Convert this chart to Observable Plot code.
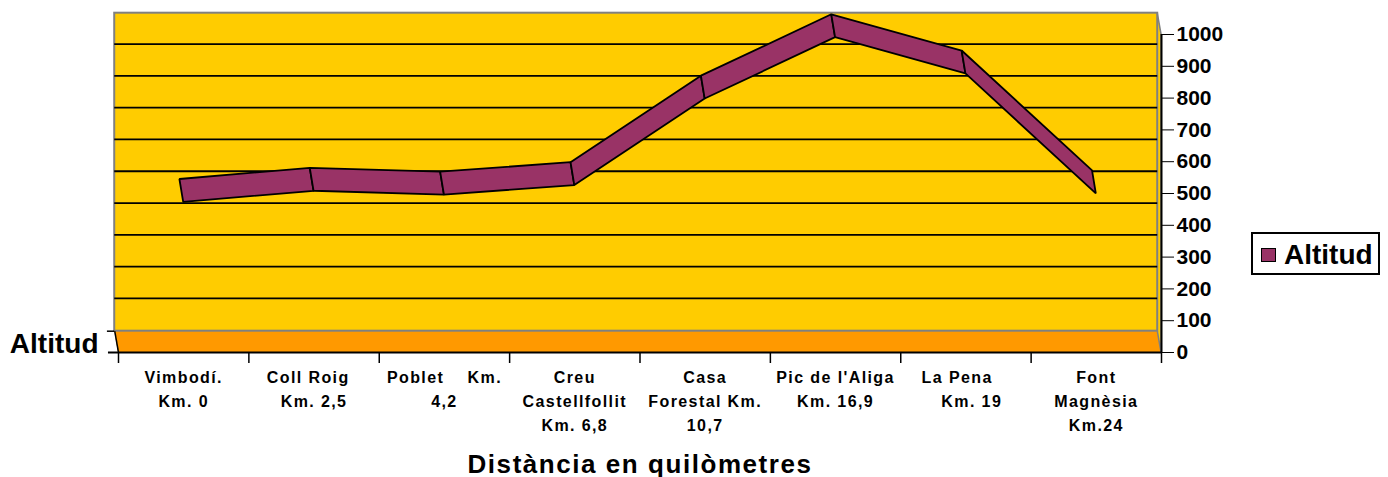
<!DOCTYPE html>
<html>
<head>
<meta charset="utf-8">
<script src="https://cdn.jsdelivr.net/npm/d3@7"></script>
<script src="https://cdn.jsdelivr.net/npm/@observablehq/plot@0.6"></script>
<style>
html,body{margin:0;padding:0;background:#fff}
#wrap{position:relative;width:1388px;height:477px;overflow:hidden;font-family:"Liberation Sans",Arial,sans-serif;font-weight:bold;color:#000}
#legend{position:absolute;left:1251px;top:232px;width:125px;height:39px;border:2px solid #000;background:#fff}
#legend i{position:absolute;left:8px;top:14px;width:13px;height:12px;background:#993366;border:1.5px solid #000}
#legend span{position:absolute;left:31px;top:5px;font-size:28px;line-height:32px}
svg g[aria-label="x-axis tick label"] text{letter-spacing:1.4px}
svg g[aria-label="x-axis label"] text{letter-spacing:1.55px}
</style>
</head>
<body>
<div id="wrap"><div id="legend"><i></i><span>Altitud</span></div></div>
<script>
const categories = ["Vimbodí.\nKm. 0","Coll Roig\u00a0\u00a0\nKm. 2,5","Poblet\u00a0\u00a0\u00a0\u00a0Km.\n4,2","Creu\nCastellfollit\nKm. 6,8","Casa\nForestal Km.\n10,7","Pic de l'Aliga\nKm. 16,9","La Pena\u00a0\u00a0\u00a0\n\u00a0\u00a0Km. 19","Font\nMagnèsia\nKm.24"];
const altitudes = [472,507,495,525,797,990,876,499];
const yTicks = [0,100,200,300,400,500,600,700,800,900,1000];
const seriesName = "Altitud";
const axisTitle = "Distància en quilòmetres";

const depthX = -0.029, wallDepthY = 67, ribbonDepthY = 72, gridShift = 3;
const xEdges = d3.range(9).map(i => i - 0.5);
const left = -0.5, right = 7.5, top1000 = 1000;

const segments = d3.range(altitudes.length - 1).flatMap(s => [s, s + 1].map(i => ({s, i, v: altitudes[i]})));
const font = '"Liberation Sans",Arial,sans-serif';
const grey = "#808080";

const chart = Plot.plot({
  width: 1388, height: 477,
  marginLeft: 118, marginRight: 227, marginTop: 34, marginBottom: 125,
  style: {fontFamily: font, fontWeight: "bold", color: "#000", background: "#fff", overflow: "visible"},
  x: {type: "linear", domain: [left, right]},
  y: {type: "linear", domain: [0, top1000]},
  marks: [
    Plot.area([left, right], {x1: d => d, y1: 0, x2: d => d + depthX, y2: wallDepthY, fill: "#FF9900"}),
    Plot.area([0, top1000], {x1: right + depthX, y1: d => d + wallDepthY, x2: right, y2: d => d, fill: "#FFCC00", stroke: grey, strokeWidth: 1.5}),
    Plot.rect([0], {x1: left + depthX, x2: right + depthX, y1: wallDepthY, y2: top1000 + wallDepthY, fill: "#FFCC00", stroke: grey, strokeWidth: 2}),
    Plot.ruleY(yTicks.slice(1, -1), {y: d => d + wallDepthY + gridShift, x1: left + depthX, x2: right + depthX, stroke: "#000", strokeWidth: 1.8}),
    Plot.link([0], {x1: left, y1: 0, x2: left + depthX, y2: wallDepthY, stroke: "#000", strokeWidth: 1.5}),
    Plot.ruleY([0], {x1: left - 0.077, x2: right, stroke: "#000", strokeWidth: 2}),
    Plot.ruleY([wallDepthY], {x1: left - 0.085, x2: left + depthX, stroke: "#000", strokeWidth: 1.5}),
    Plot.ruleX([right], {y1: 0, y2: top1000, stroke: "#000", strokeWidth: 2}),
    Plot.area(segments, {
      x1: "i", y1: "v",
      x2: d => d.i + depthX, y2: d => d.v + ribbonDepthY,
      z: "s", fill: "#993366", stroke: "#000", strokeWidth: 1.8, strokeLinejoin: "miter"
    }),
    Plot.axisY({anchor: "right", ticks: yTicks, tickSize: 12, tickPadding: 3, fontSize: 21, label: null, textAnchor: "start", tickFormat: "d"}),
    Plot.axisX({anchor: "bottom", ticks: xEdges, tickSize: 11, tickFormat: () => "", label: null, strokeWidth: 1.5}),
    Plot.axisX({
      anchor: "bottom", ticks: d3.range(categories.length), tickSize: 0, tickPadding: 14,
      tickFormat: i => categories[i], fontSize: 16, lineHeight: 1.49, lineAnchor: "top",
      label: axisTitle, labelAnchor: "center", labelArrow: "none", labelOffset: 120
    }),
    Plot.text([seriesName], {x: left, y: wallDepthY / 2, dx: -20, dy: 2, text: d => d, textAnchor: "end", fontSize: 28, fontWeight: "bold"})
  ]
});
document.getElementById("wrap").prepend(chart);
const lbl = chart.querySelector('g[aria-label="x-axis label"]');
if (lbl) lbl.style.fontSize = "26px";
</script>
</body>
</html>
